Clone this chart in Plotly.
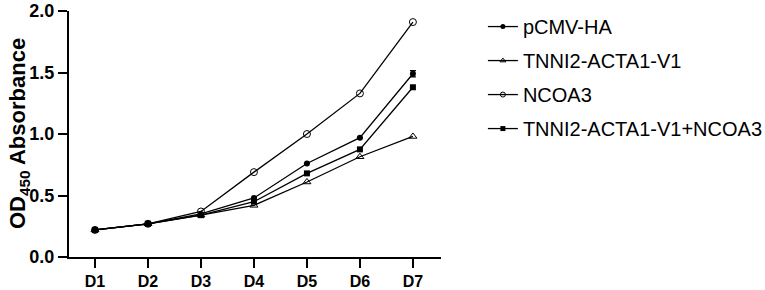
import plotly.graph_objects as go

days = ["D1", "D2", "D3", "D4", "D5", "D6", "D7"]
pcmv = [0.22, 0.27, 0.35, 0.48, 0.76, 0.97, 1.49]
pcmv_err = [0.0, 0.0, 0.0, 0.0, 0.0, 0.0, 0.025]
tnni2 = [0.22, 0.27, 0.34, 0.42, 0.61, 0.815, 0.98]
ncoa3 = [0.22, 0.27, 0.37, 0.69, 1.00, 1.33, 1.91]
combo = [0.22, 0.27, 0.34, 0.45, 0.68, 0.875, 1.38]
names = ["pCMV-HA", "TNNI2-ACTA1-V1", "NCOA3", "TNNI2-ACTA1-V1+NCOA3"]
y_ticks = [0.0, 0.5, 1.0, 1.5, 2.0]
y_title = "OD<sub>450</sub> Absorbance"

FONT = "Liberation Sans, Arial, sans-serif"
x = list(range(len(days)))
fig = go.Figure()

series = [
    (pcmv, dict(symbol="circle", size=6, color="black"), pcmv_err),
    (tnni2, dict(symbol="triangle-up-open", size=7, color="black", line=dict(width=1)), None),
    (ncoa3, dict(symbol="circle-open", size=7, color="black", line=dict(width=1)), None),
    (combo, dict(symbol="square", size=6, color="black"), None),
]

for i, (vals, mk, err) in enumerate(series):
    fig.add_trace(go.Scatter(
        x=x, y=vals, mode="lines+markers", name=names[i],
        line=dict(color="black", width=1.3), marker=mk, showlegend=False,
        error_y=dict(type="data", array=err, color="black", thickness=1.2, width=3) if err else None,
    ))
    small = dict(mk)
    small["size"] = 5
    fig.add_trace(go.Scatter(
        x=[None], y=[None], mode="lines+markers", name=names[i],
        line=dict(color="black", width=1.3), marker=small, legendgroup=f"g{i}",
    ))

fig.update_layout(
    width=765, height=290,
    margin=dict(l=69, r=324, t=11, b=33, autoexpand=False),
    paper_bgcolor="white", plot_bgcolor="white",
    font=dict(family=FONT, color="black"),
    showlegend=True,
    legend=dict(
        x=1.1126, y=1.016, xanchor="left", yanchor="top",
        font=dict(size=20, color="black", family=FONT), traceorder="grouped",
        tracegroupgap=5, bgcolor="rgba(0,0,0,0)",
        itemwidth=30,
    ),
    xaxis=dict(
        range=[-0.49, 6.53], tickmode="array", tickvals=x, ticktext=days,
        showline=True, linecolor="black", linewidth=2, ticks="outside",
        ticklen=9, tickwidth=2, tickcolor="black", showgrid=False, zeroline=False,
        tickfont=dict(size=16, family=FONT, weight="bold"), automargin=False,
        ticklabeloverflow="allow",
    ),
    yaxis=dict(
        range=[0, 2.0], tickmode="array", tickvals=y_ticks,
        ticktext=[f"{v:.1f}" for v in y_ticks],
        showline=True, linecolor="black", linewidth=2, ticks="outside",
        ticklen=9, tickwidth=2, tickcolor="black", showgrid=False, zeroline=False,
        tickfont=dict(size=18, family=FONT, weight="bold"), automargin=False,
        ticklabeloverflow="allow",
    ),
    annotations=[dict(
        text=y_title, textangle=-90, xref="paper", yref="paper",
        x=-0.1344, y=0.5, xanchor="center", yanchor="middle", showarrow=False,
        font=dict(size=22, family=FONT, weight="bold", color="black"),
    )],
)

fig.write_html("out.html", config={"displayModeBar": False},
               post_script="document.body.style.margin='0';")
